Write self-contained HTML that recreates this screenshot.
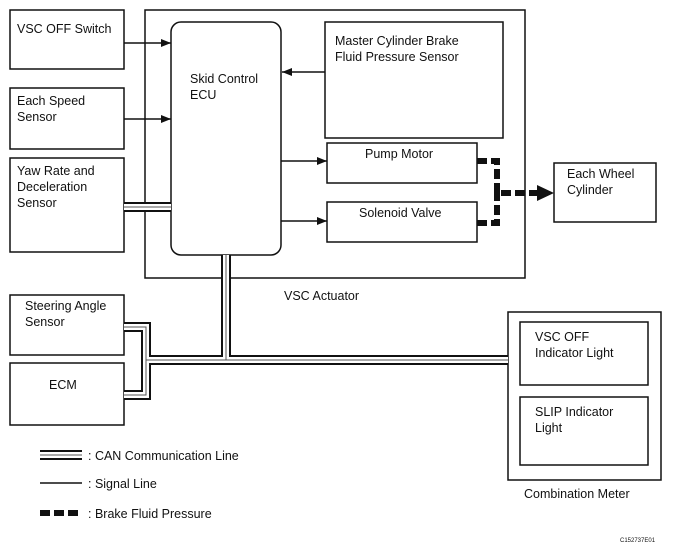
<!DOCTYPE html>
<html><head><style>
body{margin:0;background:#fff}
svg{display:block}
text{font-family:"Liberation Sans",Arial,sans-serif;font-size:12.5px;fill:#111}
</style></head><body>
<svg width="675" height="552" viewBox="0 0 675 552" xmlns="http://www.w3.org/2000/svg">
<defs>
<marker id="a" markerWidth="10" markerHeight="8" refX="10" refY="4" orient="auto" markerUnits="userSpaceOnUse">
<path d="M0,0 L10,4 L0,8 Z" fill="#111"/></marker>
</defs>
<g fill="none" stroke="#111" stroke-width="1.5">
<rect x="10" y="10" width="114" height="59"/>
<rect x="10" y="88" width="114" height="61"/>
<rect x="10" y="158" width="114" height="94"/>
<rect x="145" y="10" width="380" height="268"/>
<rect x="171" y="22" width="110" height="233" rx="10"/>
<rect x="325" y="22" width="178" height="116"/>
<rect x="327" y="143" width="150" height="40"/>
<rect x="327" y="202" width="150" height="40"/>
<rect x="554" y="163" width="102" height="59"/>
<rect x="10" y="295" width="114" height="60"/>
<rect x="10" y="363" width="114" height="62"/>
<rect x="508" y="312" width="153" height="168"/>
<rect x="520" y="322" width="128" height="63"/>
<rect x="520" y="397" width="128" height="68"/>
<line x1="124" y1="43" x2="171" y2="43" marker-end="url(#a)"/>
<line x1="124" y1="119" x2="171" y2="119" marker-end="url(#a)"/>
<line x1="325" y1="72" x2="282" y2="72" marker-end="url(#a)"/>
<line x1="281" y1="161" x2="327" y2="161" marker-end="url(#a)"/>
<line x1="281" y1="221" x2="327" y2="221" marker-end="url(#a)"/>
<line x1="40" y1="483" x2="82" y2="483"/>
</g>
<g fill="none" stroke-linejoin="miter">
<g stroke="#111" stroke-width="10">
<path d="M124,207 H171"/>
<path d="M226,255 V360"/>
<path d="M124,327 H146 V395 H124"/>
<path d="M146,360 H508"/>
<path d="M40,455 H82"/>
</g>
<g stroke="#fff" stroke-width="6">
<path d="M124,207 H171"/>
<path d="M226,255 V360"/>
<path d="M124,327 H146 V395 H124"/>
<path d="M146,360 H508"/>
<path d="M40,455 H82"/>
</g>
<g stroke="#555" stroke-width="1">
<path d="M124,207 H171"/>
<path d="M226,255 V360"/>
<path d="M124,327 H146 V395 H124"/>
<path d="M146,360 H508"/>
<path d="M40,455 H82"/>
</g>
</g>
<g fill="none" stroke="#111" stroke-width="6" stroke-dasharray="10,4">
<path d="M477,161 H497 V193 H540"/>
<path d="M477,223 H497 V193"/>
<path d="M40,513 H82"/>
</g>
<path d="M537,185 L554,193 L537,201 Z" fill="#111"/>
<text x="17" y="33">VSC OFF Switch</text>
<text x="17" y="105">Each Speed</text>
<text x="17" y="121">Sensor</text>
<text x="17" y="175">Yaw Rate and</text>
<text x="17" y="191">Deceleration</text>
<text x="17" y="207">Sensor</text>
<text x="190" y="83">Skid Control</text>
<text x="190" y="99">ECU</text>
<text x="335" y="45">Master Cylinder Brake</text>
<text x="335" y="61">Fluid Pressure Sensor</text>
<text x="365" y="158">Pump Motor</text>
<text x="359" y="217">Solenoid Valve</text>
<text x="567" y="178">Each Wheel</text>
<text x="567" y="194">Cylinder</text>
<text x="284" y="300">VSC Actuator</text>
<text x="25" y="310">Steering Angle</text>
<text x="25" y="326">Sensor</text>
<text x="49" y="389">ECM</text>
<text x="535" y="341">VSC OFF</text>
<text x="535" y="357">Indicator Light</text>
<text x="535" y="416">SLIP Indicator</text>
<text x="535" y="432">Light</text>
<text x="524" y="498">Combination Meter</text>
<text x="88" y="460">: CAN Communication Line</text>
<text x="88" y="488">: Signal Line</text>
<text x="88" y="518">: Brake Fluid Pressure</text>
<text x="620" y="542" style="font-size:6px">C152737E01</text>
</svg>
</body></html>
